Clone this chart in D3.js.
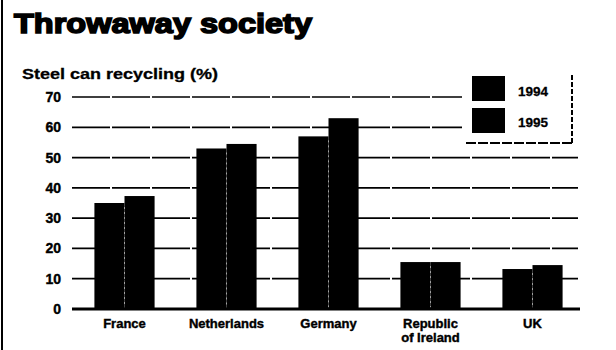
<!DOCTYPE html>
<html>
<head>
<meta charset="utf-8">
<script src="https://cdn.jsdelivr.net/npm/d3@7"></script>
<style>
  body { margin: 0; background: #fff; }
  text { font-family: "Liberation Sans", Arial, sans-serif; font-weight: bold; fill: #000; }
</style>
</head>
<body>
<svg id="chart" width="616" height="350"></svg>
<script>
// data
const countries = ['France', 'Netherlands', 'Germany', 'Republic of Ireland', 'UK'];
const labelLines = [['France'], ['Netherlands'], ['Germany'], ['Republic', 'of Ireland'], ['UK']];
const years = ['1994', '1995'];
const v1994 = [35, 53, 57, 15.5, 13.2];
const v1995 = [37.3, 54.5, 63, 15.5, 14.5];
const yTicks = [0, 10, 20, 30, 40, 50, 60, 70];

const svg = d3.select('#chart');

// scales
const x = d3.scaleBand().domain(countries).range([73.5, 583.5]).paddingInner(0.41).paddingOuter(0.205);
const xs = d3.scaleBand().domain(years).range([0, x.bandwidth()]);
const y = d3.scaleLinear().domain([0, 70]).range([309, 97]);

// left border of the clipping
svg.append('line').attr('x1', 2).attr('x2', 2).attr('y1', 0).attr('y2', 350)
  .attr('stroke', '#000').attr('stroke-width', 2);

// title + subtitle
svg.append('text').attr('x', 14).attr('y', 33)
  .attr('font-size', 27).attr('textLength', 298).attr('lengthAdjust', 'spacingAndGlyphs')
  .attr('stroke', '#000').attr('stroke-width', 1.6)
  .text('Throwaway society');
svg.append('text').attr('x', 22).attr('y', 79)
  .attr('font-size', 14.5).attr('textLength', 196).attr('lengthAdjust', 'spacingAndGlyphs')
  .attr('stroke', '#000').attr('stroke-width', 0.3)
  .text('Steel can recycling (%)');

// gridlines (skip zero, drawn heavier as baseline)
const grid = svg.append('g');
grid.selectAll('line')
  .data(yTicks.filter(d => d > 0))
  .join('line')
  .attr('x1', 72).attr('x2', d => d >= 60 ? 462 : 578)
  .attr('y1', d => y(d)).attr('y2', d => y(d))
  .attr('stroke', '#000').attr('stroke-width', 1.7)
  .attr('stroke-dasharray', '38 2');

// y tick labels
svg.append('g').selectAll('text')
  .data(yTicks)
  .join('text')
  .attr('x', 61).attr('y', d => y(d) + 5)
  .attr('text-anchor', 'end').attr('font-size', 14)
  .attr('stroke', '#000').attr('stroke-width', 0.4)
  .text(d => d);

// bars
const groups = svg.append('g').selectAll('g')
  .data(countries)
  .join('g')
  .attr('transform', d => `translate(${x(d)},0)`);
groups.selectAll('rect')
  .data((d, i) => [v1994[i], v1995[i]].map((v, j) => ({ year: years[j], v })))
  .join('rect')
  .attr('x', d => xs(d.year))
  .attr('width', xs.bandwidth())
  .attr('y', d => y(d.v))
  .attr('height', d => y(0) - y(d.v))
  .attr('fill', '#000');
// faint split between the pair
groups.append('line')
  .attr('x1', xs('1995')).attr('x2', xs('1995'))
  .attr('y1', (d, i) => y(Math.min(v1994[i], v1995[i])) + 4).attr('y2', y(0) - 2)
  .attr('stroke', '#bbb').attr('stroke-width', 0.8).attr('stroke-dasharray', '2 3');

// baseline
svg.append('line').attr('x1', 72).attr('x2', 580).attr('y1', y(0)).attr('y2', y(0))
  .attr('stroke', '#000').attr('stroke-width', 3);

// x labels
svg.append('g').selectAll('text')
  .data(countries)
  .join('text')
  .attr('x', d => x(d) + x.bandwidth() / 2)
  .attr('y', 328)
  .attr('text-anchor', 'middle').attr('font-size', 13)
  .attr('stroke', '#000').attr('stroke-width', 0.4)
  .each(function(d, i) {
    d3.select(this).selectAll('tspan')
      .data(labelLines[i])
      .join('tspan')
      .attr('x', x(d) + x.bandwidth() / 2)
      .attr('dy', (t, k) => k === 0 ? 0 : 14)
      .text(t => t);
  });

// legend
const leg = svg.append('g');
leg.append('rect').attr('x', 463).attr('y', 70).attr('width', 110).attr('height', 73).attr('fill', '#fff');
leg.selectAll('rect.key')
  .data(years)
  .join('rect').attr('class', 'key')
  .attr('x', 472).attr('y', (d, i) => 76 + i * 32)
  .attr('width', 33).attr('height', 25)
  .attr('fill', '#000');
leg.selectAll('text')
  .data(years)
  .join('text')
  .attr('x', 518).attr('y', (d, i) => 96 + i * 31)
  .attr('font-size', 13.5)
  .attr('stroke', '#000').attr('stroke-width', 0.3)
  .text(d => d);
leg.append('line').attr('x1', 466).attr('x2', 574).attr('y1', 143).attr('y2', 143)
  .attr('stroke', '#000').attr('stroke-width', 2).attr('stroke-dasharray', '10 2');
leg.append('line').attr('x1', 572).attr('x2', 572).attr('y1', 75).attr('y2', 143)
  .attr('stroke', '#000').attr('stroke-width', 2).attr('stroke-dasharray', '5 2');
</script>
</body>
</html>
